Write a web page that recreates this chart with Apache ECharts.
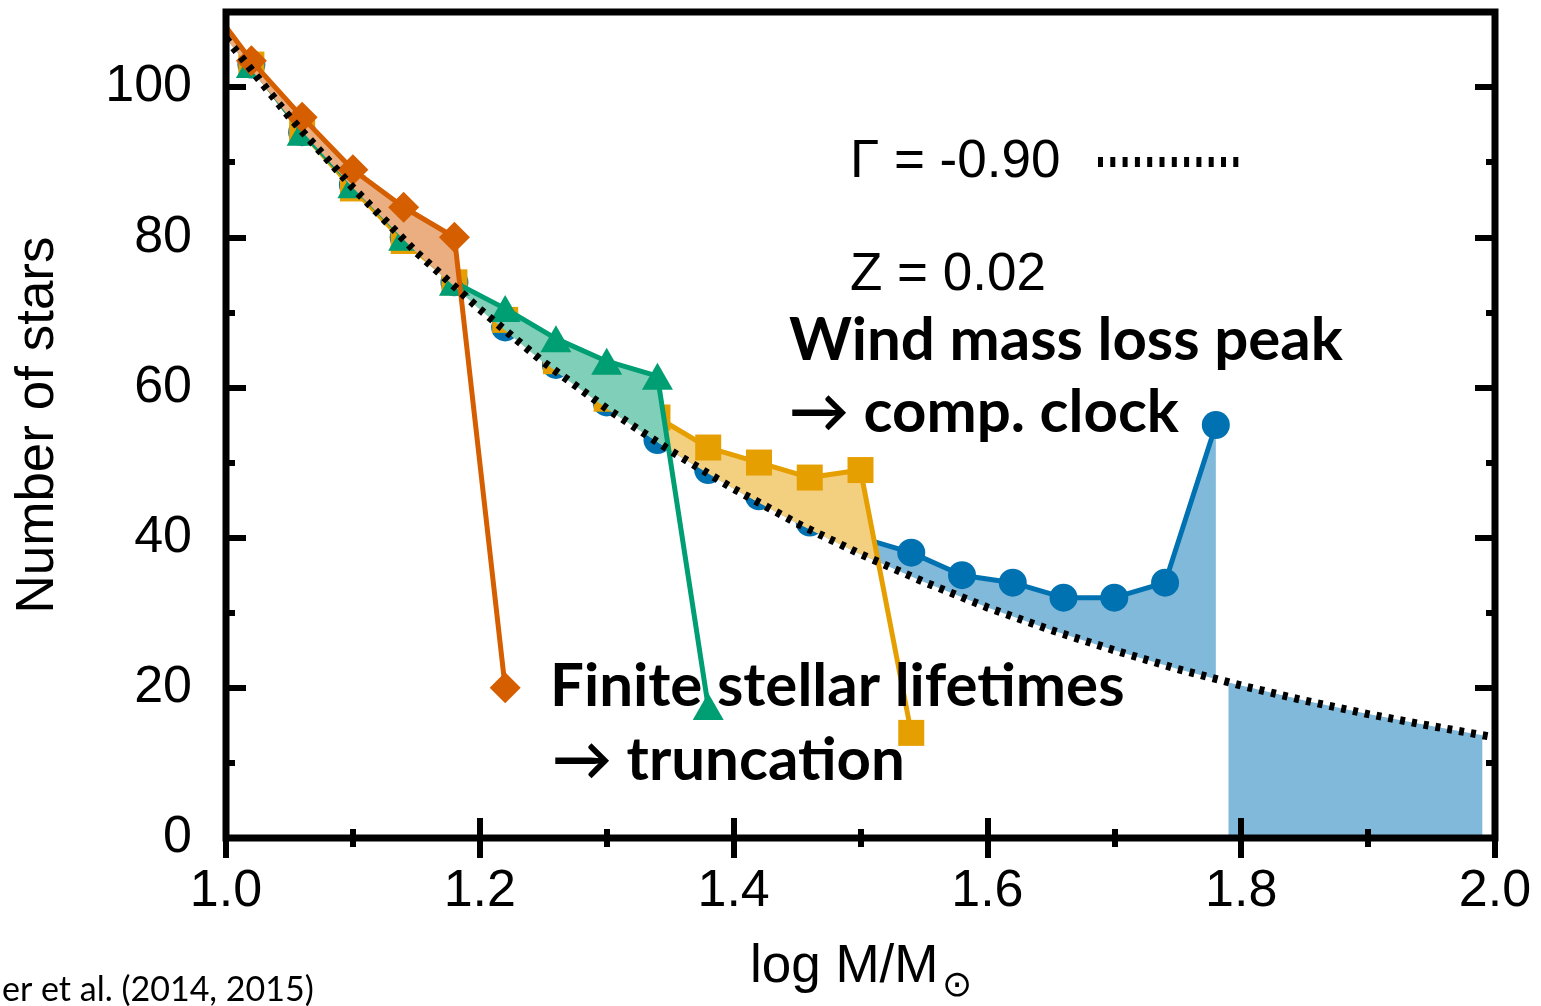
<!DOCTYPE html>
<html>
<head>
<meta charset="utf-8">
<script src="https://cdn.jsdelivr.net/npm/echarts@6/dist/echarts.min.js"></script>
<style>
  html, body { margin: 0; padding: 0; background: #fff; }
  #chart { width: 1541px; height: 1006px; }
</style>
</head>
<body>
<div id="chart"></div>
<script>
// Mass bins (log M/Msun) shared by all cluster models
const massBins = [0.98, 1.02, 1.06, 1.10, 1.14, 1.18, 1.22, 1.26, 1.30, 1.34, 1.38,
                  1.42, 1.46, 1.50, 1.54, 1.58, 1.62, 1.66, 1.70, 1.74, 1.78];

// Number of stars per bin for each model (truncated where the stars have died)
const windPeakCounts = [112.5, 103, 94, 87, 80, 74, 68, 63, 58, 53, 49,
                        45.5, 42, 40, 38, 35, 34, 32, 32, 34, 55];
const olderCounts    = [112.5, 103, 94, 86.5, 79.5, 74, 69, 63.5, 58.5, 56, 52,
                        50, 48, 49, 14];
const midAgeCounts   = [112.5, 103, 94, 87, 80, 74, 70.5, 66.5, 63.5, 61.5, 17.5];
const oldestCounts   = [112.5, 103.5, 96, 89, 84, 80, 20];

// Power-law mass function, Gamma = -0.90
const powerLawX = [1.00, 1.05, 1.10, 1.15, 1.20, 1.25, 1.30, 1.35, 1.40, 1.45, 1.50,
                   1.55, 1.60, 1.65, 1.70, 1.75, 1.80, 1.85, 1.90, 1.95, 2.00];
const powerLawN = [106.5, 96.0, 86.6, 78.0, 70.4, 63.4, 57.2, 51.6, 46.5, 41.9, 37.8,
                   34.1, 30.7, 27.7, 25.0, 22.5, 20.3, 18.3, 16.5, 14.9, 13.4];

// Stars missing beyond the wind-peak model's most massive bin
const tailX = [1.79, 1.80, 1.85, 1.90, 1.95, 1.99];
const tailN = [20.7, 20.3, 18.3, 16.5, 14.9, 13.7];

// Axis ticks
const xTickStep = 0.2;
const yTickStep = 20;
const yMinorStep = 10;

const pairs = (xs, ys) => ys.map((y, i) => [xs[i], y]);

const BLUE = '#0072B2', YELLOW = '#E69F00', GREEN = '#009E73', ORANGE = '#D55E00';
const BLUE_FILL = '#80B9D9', YELLOW_FILL = '#F3CF80', GREEN_FILL = '#80CFB9', ORANGE_FILL = '#EAAE80';
const SANS = '"Liberation Sans", Arial, sans-serif';
const BOLD = 'bold 60px Lato, "Open Sans", sans-serif';

// piecewise-linear value of a polyline at x
function valueAt(xs, ys, x) {
  for (let i = 1; i < xs.length; i++) {
    if (x <= xs[i] + 1e-9) {
      const t = (x - xs[i - 1]) / (xs[i] - xs[i - 1]);
      return ys[i - 1] + t * (ys[i] - ys[i - 1]);
    }
  }
  return ys[ys.length - 1];
}

// region between a model and the power law where the model lies above it
function excessRegion(allX, ys) {
  const xs = allX.slice(0, ys.length);
  const lo = Math.max(xs[0], powerLawX[0]);
  const hi = xs[xs.length - 1];
  const cuts = Array.from(new Set(xs.concat(powerLawX)
    .filter(x => x >= lo - 1e-9 && x <= hi + 1e-9)
    .map(x => +x.toFixed(4)))).sort((a, b) => a - b);
  const diff = x => valueAt(xs, ys, x) - valueAt(powerLawX, powerLawN, x);
  const xsAll = [];
  cuts.forEach((x, i) => {
    if (i > 0) {
      const xp = cuts[i - 1], dp = diff(xp), d = diff(x);
      if (dp * d < 0) xsAll.push(xp + (x - xp) * dp / (dp - d));
    }
    xsAll.push(x);
  });
  const upper = xsAll.map(x => [x, Math.max(valueAt(xs, ys, x), valueAt(powerLawX, powerLawN, x))]);
  const lower = xsAll.slice().reverse().map(x => [x, valueAt(powerLawX, powerLawN, x)]);
  return upper.concat(lower);
}

function excessSeries(name, xs, ys, color, z) {
  const poly = excessRegion(xs, ys);
  return {
    type: 'custom', name, z, silent: true, clip: true,
    data: [poly[0]],
    renderItem: (params, api) => ({
      type: 'polygon',
      shape: { points: poly.map(p => api.coord(p)) },
      style: { fill: color }
    })
  };
}
function markSeries(name, data, color, symbol, size, z) {
  return {
    type: 'line', name, data, z, symbol, symbolSize: size, showSymbol: true, clip: true,
    lineStyle: { color, width: 5 }, itemStyle: { color, opacity: 1 }
  };
}

const tickStyle = { color: '#000', width: 6 };
function xAxisDef(pos, labels) {
  return {
    type: 'value', position: pos, min: 1, max: 2, interval: xTickStep, z: 20,
    axisLine: { show: false },
    axisTick: { show: true, inside: true, length: 20, lineStyle: tickStyle },
    minorTick: { show: true, splitNumber: 2, length: 9, lineStyle: tickStyle },
    splitLine: { show: false }, minorSplitLine: { show: false },
    axisLabel: labels ? {
      show: true, margin: 28, fontFamily: SANS, fontSize: 52, color: '#000',
      formatter: v => v.toFixed(1)
    } : { show: false }
  };
}
function yAxisDef(pos, step, len, labels) {
  const a = {
    type: 'value', position: pos, min: 0, max: 110, interval: step, z: 20,
    axisLine: { show: false },
    axisTick: { show: true, inside: true, length: len, lineStyle: tickStyle },
    splitLine: { show: false },
    axisLabel: labels ? {
      show: true, margin: 34, fontFamily: SANS, fontSize: 52, color: '#000',
      showMaxLabel: false, formatter: v => (v > 100 ? '' : String(v))
    } : { show: false }
  };
  if (labels) {
    a.name = 'Number of stars';
    a.nameLocation = 'middle';
    a.nameRotate = 90;
    a.nameGap = 161;
    a.nameTextStyle = { fontFamily: SANS, fontSize: 53, color: '#000' };
  }
  return a;
}

function label(text, x, y, font) {
  return {
    type: 'text', x, y, z: 30, silent: true,
    style: { text, font, fill: '#000', textAlign: 'left', textVerticalAlign: 'middle' }
  };
}

const chart = echarts.init(document.getElementById('chart'), null, { renderer: 'canvas' });
chart.setOption({
  animation: false,
  backgroundColor: '#fff',
  grid: { left: 226, right: 46, top: 12, bottom: 168, show: true, z: 20,
          borderColor: '#000', borderWidth: 7, backgroundColor: 'transparent' },
  xAxis: [xAxisDef('bottom', true), xAxisDef('top', false)],
  yAxis: [yAxisDef('left', yTickStep, 20, true), yAxisDef('left', yMinorStep, 9, false),
          yAxisDef('right', yTickStep, 20, false), yAxisDef('right', yMinorStep, 9, false)],
  series: [
    // wind mass loss peak model
    excessSeries('wind excess', massBins, windPeakCounts, BLUE_FILL, 1),
    {
      type: 'line', name: 'wind tail', data: pairs(tailX, tailN), z: 1, silent: true,
      symbol: 'none', clip: true, lineStyle: { width: 0 },
      areaStyle: { color: BLUE_FILL, opacity: 1 }
    },
    markSeries('wind peak', pairs(massBins, windPeakCounts), BLUE, 'circle', 28, 2),
    // finite lifetime models, oldest drawn last
    excessSeries('older excess', massBins, olderCounts, YELLOW_FILL, 3),
    markSeries('older', pairs(massBins, olderCounts), YELLOW, 'rect', 26, 4),
    excessSeries('mid excess', massBins, midAgeCounts, GREEN_FILL, 5),
    markSeries('mid age', pairs(massBins, midAgeCounts), GREEN, 'triangle', [31, 27], 6),
    excessSeries('oldest excess', massBins, oldestCounts, ORANGE_FILL, 7),
    markSeries('oldest', pairs(massBins, oldestCounts), ORANGE, 'diamond', 31, 8),
    // power-law reference
    {
      type: 'line', name: 'power law', data: pairs(powerLawX, powerLawN), z: 9,
      symbol: 'none', clip: true,
      lineStyle: { color: '#000', width: 8, type: [5, 7], cap: 'butt' }
    }
  ],
  graphic: [
    label('\u0393 = -0.90', 850, 162, '53px ' + SANS),
    {
      type: 'line', z: 30, silent: true,
      shape: { x1: 1098, y1: 162, x2: 1242, y2: 162 },
      style: { stroke: '#000', lineWidth: 10, lineDash: [5, 7.3] }
    },
    label('Z = 0.02', 850, 275, '53px ' + SANS),
    label('Wind mass loss peak', 789, 341, BOLD),
    label('\u2192 comp. clock', 789, 413, BOLD),
    label('Finite stellar lifetimes', 550, 687, BOLD),
    label('\u2192 truncation', 552, 761, BOLD),
    label('log M/M', 750, 967, '53px ' + SANS),
    label('\u2299', 942, 987, '36px "DejaVu Sans", sans-serif'),
    label('er et al. (2014, 2015)', 2, 990, '34px Lato, sans-serif')
  ]
});
</script>
</body>
</html>
